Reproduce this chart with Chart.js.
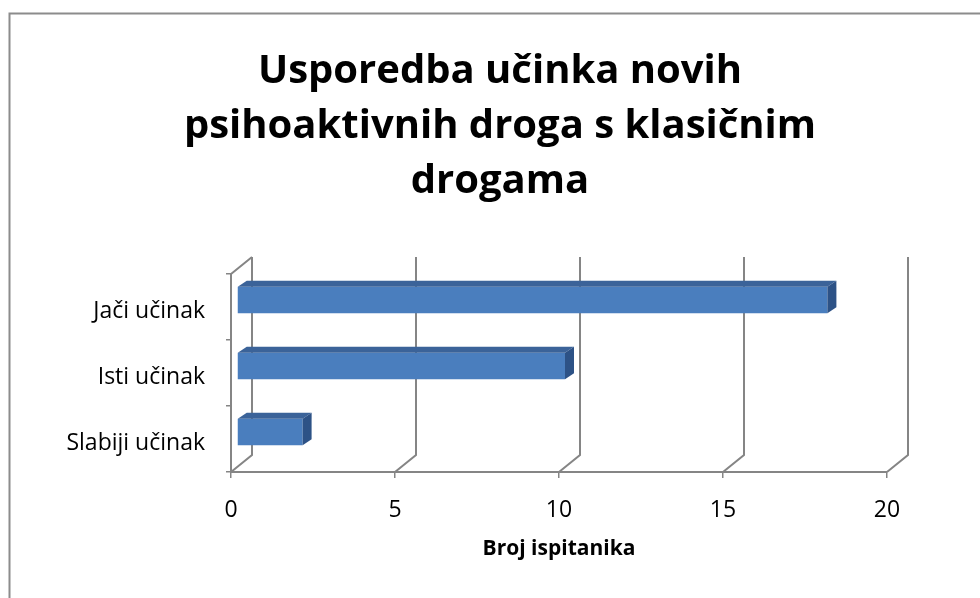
<!DOCTYPE html>
<html>
<head>
<meta charset="utf-8">
<script src="https://cdn.jsdelivr.net/npm/chart.js@4.4.1/dist/chart.umd.min.js"></script>
<style>
  html, body { margin: 0; padding: 0; background: #fff; }
  #wrap { width: 980px; height: 598px; }
</style>
</head>
<body>
<div id="wrap"><canvas id="chart_1" width="980" height="598"></canvas></div>
<script>
// data
const categories = ['Jači učinak', 'Isti učinak', 'Slabiji učinak'];
const values = [18, 10, 2];
const xTickValues = [0, 5, 10, 15, 20];
const titleLines = ['Usporedba učinka novih', 'psihoaktivnih droga s klasičnim', 'drogama'];
const axisTitle = 'Broj ispitanika';

const GRAY = '#858585';
const FONT = "'Open Sans', sans-serif";
// depth of the back wall and of the bars (Excel 3D look)
const WALL = { dx: 21, dy: -17 };
const BAR_SHIFT = { dx: 6, dy: -7 };
const BAR_DEPTH = { dx: 9, dy: -6 };

/**
 * Draws the frame, the 3D walls and the bar faces around the bars Chart.js draws
 */
const wall3d = {
    id: 'wall3d',
    beforeDraw(chart) {
        const ctx = chart.ctx;
        ctx.save();
        ctx.fillStyle = '#fff';
        ctx.fillRect(0, 0, chart.width, chart.height);
        ctx.strokeStyle = '#8c8c8c';
        ctx.lineWidth = 2;
        ctx.beginPath();
        ctx.moveTo(9.5, chart.height);
        ctx.lineTo(9.5, 13.5);
        ctx.lineTo(chart.width, 13.5);
        ctx.stroke();
        ctx.restore();
    },
    beforeDatasetsDraw(chart) {
        const ctx = chart.ctx;
        const a = chart.chartArea;
        const x = chart.scales.x;
        ctx.save();
        ctx.strokeStyle = GRAY;
        ctx.lineWidth = 2;
        ctx.beginPath();
        // back wall gridlines with floor diagonals
        xTickValues.forEach(v => {
            const px = Math.round(x.getPixelForValue(v));
            ctx.moveTo(px, a.bottom);
            ctx.lineTo(px + WALL.dx, a.bottom + WALL.dy);
            ctx.lineTo(px + WALL.dx, a.top + WALL.dy);
        });
        // top edge of the side wall
        ctx.moveTo(a.left, a.top);
        ctx.lineTo(a.left + WALL.dx, a.top + WALL.dy);
        ctx.stroke();
        ctx.restore();

        ctx.save();
        ctx.translate(BAR_SHIFT.dx, BAR_SHIFT.dy);
    },
    afterDatasetsDraw(chart) {
        const ctx = chart.ctx;
        const meta = chart.getDatasetMeta(0);
        meta.data.forEach(bar => {
            const p = bar.getProps(['x', 'y', 'base', 'height'], true);
            const t = p.y - p.height / 2;
            const b = p.y + p.height / 2;
            // top face
            ctx.fillStyle = '#3b6399';
            ctx.beginPath();
            ctx.moveTo(p.base, t);
            ctx.lineTo(p.base + BAR_DEPTH.dx, t + BAR_DEPTH.dy);
            ctx.lineTo(p.x + BAR_DEPTH.dx, t + BAR_DEPTH.dy);
            ctx.lineTo(p.x, t);
            ctx.closePath();
            ctx.fill();
            // end face
            ctx.fillStyle = '#2d5286';
            ctx.beginPath();
            ctx.moveTo(p.x, t);
            ctx.lineTo(p.x + BAR_DEPTH.dx, t + BAR_DEPTH.dy);
            ctx.lineTo(p.x + BAR_DEPTH.dx, b + BAR_DEPTH.dy);
            ctx.lineTo(p.x, b);
            ctx.closePath();
            ctx.fill();
        });
        ctx.restore();
    }
};

const elem = document.getElementById('chart_1');
const chart = new Chart(elem.getContext('2d'), {
    type: 'bar',
    data: {
        labels: categories,
        datasets: [{
            data: values,
            backgroundColor: '#4a7ebe',
            borderWidth: 0,
            categoryPercentage: 1,
            barPercentage: 0.4
        }]
    },
    options: {
        indexAxis: 'y',
        responsive: false,
        animation: false,
        layout: { padding: { left: 20, right: 0, top: 0, bottom: 0 } },
        plugins: {
            legend: { display: false },
            tooltip: { enabled: false },
            title: {
                display: true,
                text: titleLines,
                color: '#000',
                font: { family: FONT, weight: 'bold', size: 40, lineHeight: 1.375 },
                padding: { top: 44, bottom: 65 }
            }
        },
        scales: {
            x: {
                min: 0,
                max: 20,
                afterBuildTicks: s => { s.ticks = xTickValues.map(v => ({ value: v })); },
                afterFit: s => { s.height = 126; },
                grid: { drawOnChartArea: false, drawTicks: true, tickLength: 6, color: GRAY, lineWidth: 1.5 },
                border: { display: true, color: GRAY, width: 2 },
                ticks: { color: '#000', padding: 19, font: { family: FONT, size: 23 } },
                title: {
                    display: true,
                    text: axisTitle,
                    color: '#000',
                    font: { family: FONT, weight: 'bold', size: 21, lineHeight: 1.2 },
                    padding: { top: 0, bottom: 36 }
                }
            },
            y: {
                afterFit: s => { s.width = 211; },
                grid: { drawOnChartArea: false, drawTicks: true, tickLength: 5, color: GRAY, lineWidth: 1.5, offset: true },
                border: { display: true, color: GRAY, width: 2 },
                ticks: { color: '#000', padding: 21, labelOffset: 4, font: { family: FONT, size: 23 } }
            },
            // empty space right of the plot, kept by a blank axis
            yRight: {
                type: 'category',
                position: 'right',
                afterFit: s => { s.width = 93; },
                grid: { display: false },
                border: { display: false },
                ticks: { display: false }
            }
        }
    },
    plugins: [wall3d]
});
</script>
</body>
</html>
